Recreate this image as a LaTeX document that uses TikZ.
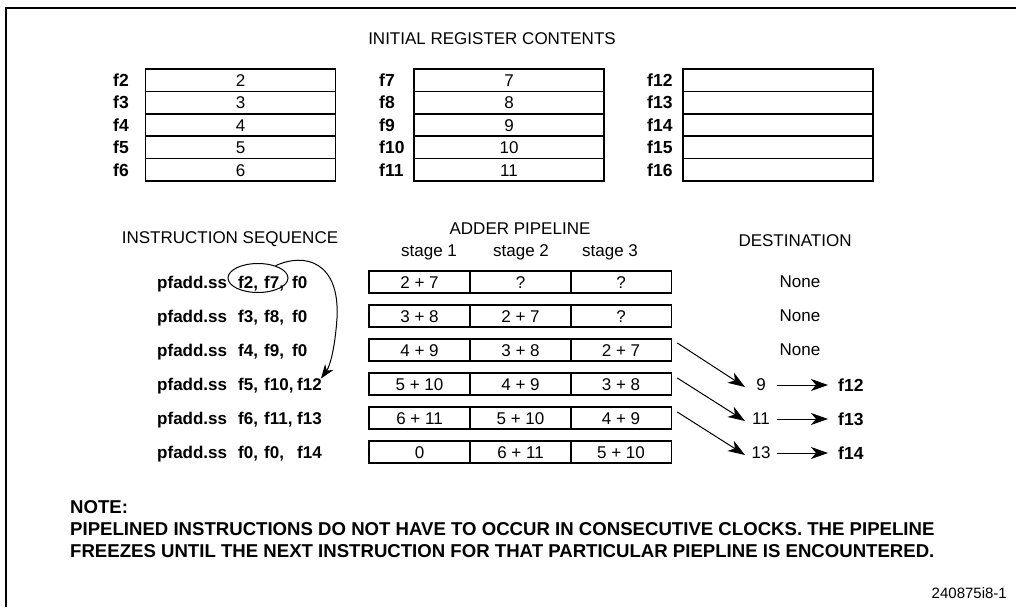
\documentclass[tikz,border=0pt]{standalone}
\usepackage{fontspec}
\setmainfont{Liberation Sans}
\usetikzlibrary{arrows.meta,shapes.geometric}
\begin{document}
\begin{tikzpicture}[x=1pt,y=-1pt,
  every node/.style={font=\fontsize{17}{20}\selectfont, inner sep=0pt},
  bold/.style={font=\fontsize{17.5}{20}\selectfont\bfseries},
  reglbl/.style={bold, anchor=west, text height=12.5pt, text depth=0pt},
  regcell/.style={draw, line width=1.5pt, minimum width=190pt, minimum height=22.4pt, text height=12.5pt, text depth=0pt},
  pcell/.style={draw, line width=1.6pt, minimum width=101pt, minimum height=22pt, text height=12.5pt, text depth=0pt},
  instr/.style={font=\fontsize{17}{20}\selectfont\bfseries, anchor=west, text height=12.5pt, text depth=0pt},
  bigarrow/.style={line width=1pt, -{Stealth[length=17pt,width=12pt,inset=5pt]}},
  frame/.style={line width=2.4pt}
]
\useasboundingbox (0,0) rectangle (1016,607);
% frame
\coordinate (ftl) at (6,8);
\coordinate (ftr) at (1016,8);
\coordinate (fbl) at (6,607);
\draw[frame] (fbl) -- (ftl) -- (ftr);

% initial register contents
\node (title) at (492,39) {INITIAL REGISTER CONTENTS};
\foreach \i/\y in {0/80.2,1/102.6,2/125,3/147.4,4/169.8}{
  \pgfmathtruncatemacro{\a}{\i+2}
  \pgfmathtruncatemacro{\b}{\i+7}
  \pgfmathtruncatemacro{\c}{\i+12}
  \node[reglbl] (la\a) at (113,\y) {f\a};
  \node[regcell] (ra\a) at (240.5,\y) {\a};
  \node[reglbl] (lb\b) at (379,\y) {f\b};
  \node[regcell] (rb\b) at (509,\y) {\b};
  \node[reglbl] (lc\c) at (647,\y) {f\c};
  \node[regcell] (rc\c) at (778,\y) {};
}

% headings
\node (hseq) at (230,239) {INSTRUCTION SEQUENCE};
\node (hadd) at (520,229) {ADDER PIPELINE};
\node (hs1) at (429,252) {stage 1};
\node (hs2) at (521,252) {stage 2};
\node (hs3) at (610,252) {stage 3};
\node (hdst) at (795,241) {DESTINATION};

% instructions
\node[instr] (i1m) at (157,282) {pfadd.ss};
\node[instr] (i1a) at (238,282) {f2,};
\node[instr] (i1b) at (264,282) {f7,};
\node[instr] (i1c) at (292,282) {f0};
\node[instr] (i2m) at (157,316) {pfadd.ss};
\node[instr] (i2a) at (238,316) {f3,};
\node[instr] (i2b) at (264,316) {f8,};
\node[instr] (i2c) at (292,316) {f0};
\node[instr] (i3m) at (157,350) {pfadd.ss};
\node[instr] (i3a) at (238,350) {f4,};
\node[instr] (i3b) at (264,350) {f9,};
\node[instr] (i3c) at (292,350) {f0};
\node[instr] (i4m) at (157,384) {pfadd.ss};
\node[instr] (i4a) at (238,384) {f5,};
\node[instr] (i4b) at (264,384) {f10,};
\node[instr] (i4c) at (297,384) {f12};
\node[instr] (i5m) at (157,418) {pfadd.ss};
\node[instr] (i5a) at (238,418) {f6,};
\node[instr] (i5b) at (264,418) {f11,};
\node[instr] (i5c) at (297,418) {f13};
\node[instr] (i6m) at (157,452) {pfadd.ss};
\node[instr] (i6a) at (238,452) {f0,};
\node[instr] (i6b) at (264,452) {f0,};
\node[instr] (i6c) at (297,452) {f14};

% ellipse and curved arrow
\node[draw, ellipse, line width=1pt, minimum width=60pt, minimum height=29pt] (ell) at (258,278) {};
\coordinate (cmid) at (337,318);
\draw[bigarrow, -{Stealth[length=14pt,width=10pt,inset=4pt]}] (ell.35) .. controls (305,252) and (340,262) .. (cmid)
   .. controls (335,348) and (330,366) .. ([xshift=-1pt,yshift=-1pt]i4c.north east);

% pipeline
\foreach \r/\y/\s/\t/\u in {1/282/2 + 7/?/?, 2/316/3 + 8/2 + 7/?, 3/350/4 + 9/3 + 8/2 + 7,
   4/384/5 + 10/4 + 9/3 + 8, 5/418/6 + 11/5 + 10/4 + 9, 6/452/0/6 + 11/5 + 10}{
  \node[pcell] (p\r1) at (419.5,\y) {\s};
  \node[pcell] (p\r2) at (520.5,\y) {\t};
  \node[pcell] (p\r3) at (621,\y) {\u};
}

% destination
\node (n1) at (800,282) {None};
\node (n2) at (800,316) {None};
\node (n3) at (800,350) {None};
\node (d4) at (761,385) {9};
\node (d5) at (761,419) {11};
\node (d6) at (761,453) {13};
\node[bold, anchor=west] (t4) at (838,385) {f12};
\node[bold, anchor=west] (t5) at (838,419) {f13};
\node[bold, anchor=west] (t6) at (838,453) {f14};
\draw[bigarrow] ([xshift=16pt]d4.center) -- ([xshift=-10pt]t4.west);
\draw[bigarrow] ([xshift=16pt]d5.center) -- ([xshift=-10pt]t5.west);
\draw[bigarrow] ([xshift=16pt]d6.center) -- ([xshift=-10pt]t6.west);
\draw[bigarrow] ([shift={(5pt,7pt)}]p33.east) -- ([shift={(-16pt,-2pt)}]d4.center);
\draw[bigarrow] ([shift={(5pt,6pt)}]p43.east) -- ([shift={(-16pt,-2pt)}]d5.center);
\draw[bigarrow] ([shift={(5pt,6pt)}]p53.east) -- ([shift={(-16pt,-2pt)}]d6.center);

% note
\begin{scope}[every node/.style={font=\fontsize{18.6}{21}\selectfont\bfseries, inner sep=0pt, anchor=west}]
\node (note) at (70,507) {NOTE:};
\node (nl1) at (70,529) {PIPELINED INSTRUCTIONS DO NOT HAVE TO OCCUR IN CONSECUTIVE CLOCKS. THE PIPELINE};
\node (nl2) at (70,551) {FREEZES UNTIL THE NEXT INSTRUCTION FOR THAT PARTICULAR PIEPLINE IS ENCOUNTERED.};
\end{scope}
\node[anchor=east, font=\fontsize{15}{17}\selectfont] (code) at (1007,593) {240875i8-1};
\end{tikzpicture}
\end{document}
